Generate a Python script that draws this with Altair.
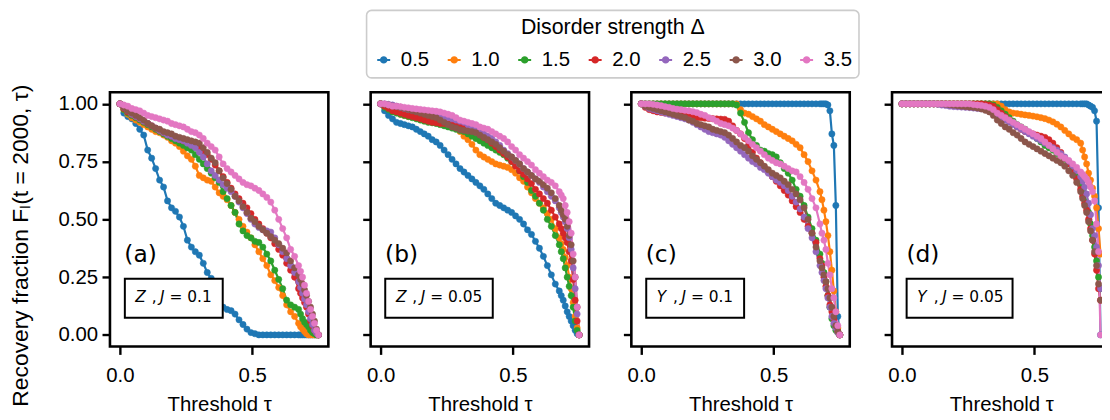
import altair as alt
import pandas as pd

# ---------------- data ----------------
TAU = [0.0, 0.015, 0.03, 0.045, 0.06, 0.075, 0.09, 0.105, 0.12, 0.135,
       0.15, 0.165, 0.18, 0.195, 0.21, 0.225, 0.24, 0.255, 0.27, 0.285,
       0.3, 0.315, 0.33, 0.345, 0.36, 0.375, 0.39, 0.405, 0.42, 0.435,
       0.45, 0.465, 0.48, 0.495, 0.51, 0.525, 0.54, 0.555, 0.57, 0.585,
       0.6, 0.615, 0.63, 0.645, 0.66, 0.675, 0.6825, 0.69, 0.6975, 0.705,
       0.7125, 0.72, 0.7275, 0.735, 0.7425, 0.75]

DELTAS = ["0.5", "1.0", "1.5", "2.0", "2.5", "3.0", "3.5"]
COLORS = ["#1f77b4", "#ff7f0e", "#2ca02c", "#d62728", "#9467bd", "#8c564b", "#e377c2"]

# panel (a): Z, J = 0.1
A_05 = [1.0, .96, .945, .935, .915, .89, .865, .8, .765, .72, .67, .64, .58, .55, .535, .51, .47, .41, .38, .36,
        .345, .31, .27, .245, .22, .13, .12, .11, .105, .09, .065, .045, .025, .01, .005, 0, 0, 0, 0, 0,
        0, 0, 0, 0, 0, 0, 0, 0, 0, 0, 0, 0, 0, 0, 0, 0]
A_10 = [1.0, .975, .955, .94, .93, .92, .91, .9, .89, .88, .875, .865, .855, .84, .83, .815, .795, .775, .76, .73,
        .69, .68, .67, .665, .64, .615, .6, .585, .56, .53, .5, .47, .445, .42, .39, .36, .33, .3, .26, .235,
        .205, .17, .13, .1, .08, .05, .035, .025, .015, .005, 0, 0, 0, 0, 0, 0]
A_15 = [1.0, .975, .96, .95, .94, .93, .92, .91, .9, .89, .88, .87, .86, .85, .84, .83, .82, .81, .8, .78,
        .76, .74, .72, .7, .68, .66, .62, .59, .56, .53, .48, .45, .43, .42, .405, .4, .38, .35, .32, .28,
        .24, .2, .15, .13, .12, .11, .09, .07, .055, .045, .035, .02, .01, .005, 0, 0]
A_20 = [1.0, .98, .965, .955, .945, .935, .925, .915, .905, .895, .885, .875, .87, .86, .855, .845, .84, .835, .83, .82,
        .81, .795, .78, .76, .735, .71, .685, .66, .635, .61, .59, .57, .55, .525, .5, .48, .46, .44, .42, .395,
        .37, .345, .31, .28, .25, .2, .18, .16, .14, .12, .09, .06, .04, .02, .01, 0]
A_25 = [1.0, .985, .97, .955, .945, .935, .925, .915, .905, .895, .885, .875, .865, .86, .85, .845, .84, .83, .82, .81,
        .79, .77, .74, .71, .69, .67, .65, .635, .62, .6, .575, .55, .525, .5, .48, .465, .455, .45, .445, .42,
        .39, .36, .33, .3, .27, .23, .205, .18, .155, .13, .1, .07, .045, .02, .008, 0]
A_30 = [1.0, .985, .97, .96, .95, .94, .93, .915, .905, .895, .89, .88, .875, .87, .86, .855, .85, .845, .84, .835,
        .83, .81, .79, .765, .745, .71, .68, .655, .63, .6, .58, .555, .53, .505, .49, .47, .455, .44, .425, .41,
        .395, .375, .355, .32, .29, .26, .24, .22, .195, .17, .145, .12, .09, .06, .025, 0]
A_35 = [1.0, .995, .99, .98, .975, .97, .96, .95, .945, .94, .935, .93, .925, .915, .91, .905, .9, .89, .88, .875,
        .865, .85, .83, .815, .8, .77, .74, .72, .705, .69, .675, .66, .65, .645, .635, .625, .61, .595, .575, .54,
        .5, .46, .42, .37, .34, .3, .275, .25, .215, .18, .145, .11, .08, .05, .02, 0]

# panel (b): Z, J = 0.05
B_05 = [1.0, .97, .95, .935, .92, .915, .91, .905, .9, .89, .88, .87, .86, .845, .835, .82, .8, .78, .76, .74,
        .72, .705, .69, .675, .66, .645, .63, .61, .59, .57, .56, .55, .54, .53, .515, .5, .48, .455, .435, .405,
        .375, .34, .3, .26, .22, .19, .17, .15, .125, .1, .08, .06, .04, .02, .005, 0]
B_10 = [1.0, .99, .98, .97, .965, .955, .95, .945, .945, .944, .943, .935, .93, .925, .92, .915, .91, .905, .9, .895,
        .88, .86, .845, .825, .8, .78, .77, .76, .75, .74, .735, .73, .725, .715, .7, .68, .665, .64, .615, .59,
        .57, .55, .525, .5, .46, .42, .395, .37, .335, .3, .25, .2, .14, .08, .03, 0]
B_15 = [1.0, .985, .975, .965, .96, .955, .95, .945, .94, .935, .93, .925, .92, .918, .915, .91, .905, .9, .895, .89,
        .885, .88, .87, .86, .85, .84, .83, .82, .81, .8, .79, .78, .765, .75, .735, .71, .685, .66, .625, .6,
        .57, .54, .5, .47, .43, .39, .36, .33, .29, .25, .21, .17, .12, .06, .02, 0]
B_20 = [1.0, .99, .98, .97, .965, .96, .955, .95, .945, .94, .935, .93, .925, .92, .918, .915, .915, .914, .914, .912,
        .91, .905, .9, .895, .885, .87, .855, .845, .83, .815, .8, .785, .77, .75, .73, .71, .695, .675, .655, .63,
        .61, .59, .57, .54, .51, .48, .46, .44, .42, .4, .36, .32, .24, .15, .06, 0]
B_25 = [1.0, 1.0, .998, .995, .99, .985, .98, .975, .972, .97, .967, .964, .96, .957, .953, .95, .945, .94, .935, .93,
        .925, .92, .91, .9, .89, .88, .87, .86, .85, .835, .82, .8, .785, .77, .755, .74, .72, .705, .69, .675,
        .66, .64, .62, .6, .58, .55, .53, .51, .49, .46, .42, .37, .29, .2, .09, 0]
B_30 = [1.0, .998, .995, .99, .988, .985, .98, .975, .97, .965, .96, .955, .95, .945, .94, .93, .92, .91, .9, .895,
        .888, .885, .882, .88, .875, .865, .855, .845, .835, .825, .81, .795, .78, .77, .755, .74, .72, .705, .69, .675,
        .665, .65, .635, .615, .59, .56, .54, .52, .5, .47, .43, .39, .32, .25, .12, 0]
B_35 = [1.0, 1.0, .995, .99, .99, .988, .985, .983, .98, .978, .976, .974, .972, .97, .968, .965, .96, .955, .95, .94,
        .93, .925, .92, .915, .91, .9, .895, .89, .88, .87, .86, .85, .835, .815, .8, .78, .765, .75, .735, .715,
        .7, .685, .67, .66, .645, .62, .605, .59, .56, .53, .49, .44, .35, .25, .12, 0]

# panel (c): Y, J = 0.1
C_05 = [1.0] * 46 + [1.0, 1.0, 1.0, .995, .97, .87, .82, .56, .08, 0]
C_10 = [1.0] * 25 + [.975, .96, .955, .945, .935, .925, .91, .9, .89, .88, .87, .86, .85, .84, .825, .81, .78, .75,
                     .71, .67, .62, .585, .54, .49, .43, .36, .28, .19, .1, .03, 0]
C_15 = [1.0] * 24 + [.995, .96, .92, .875, .845, .82, .8, .795, .785, .78, .77, .745, .72, .7, .67, .63, .6, .56,
                     .51, .46, .41, .35, .31, .27, .23, .17, .12, .07, .04, .02, .01, 0]
C_20 = [1.0, .985, .975, .97, .965, .963, .96, .958, .955, .953, .95, .948, .945, .943, .94, .94, .938, .937, .936, .935,
        .934, .933, .925, .905, .885, .87, .85, .82, .79, .765, .745, .725, .705, .685, .665, .645, .625, .605, .58, .555,
        .53, .5, .47, .44, .4, .33, .3, .25, .21, .17, .13, .1, .07, .04, .015, 0]
C_25 = [1.0, .99, .98, .975, .97, .965, .96, .955, .95, .945, .94, .935, .93, .92, .91, .9, .89, .88, .875, .87,
        .865, .855, .84, .825, .81, .795, .78, .765, .75, .74, .725, .715, .7, .685, .67, .66, .645, .625, .6, .575,
        .545, .51, .46, .42, .36, .3, .27, .235, .2, .16, .12, .08, .05, .03, .01, 0]
C_30 = [1.0, .99, .985, .98, .975, .97, .965, .96, .955, .95, .945, .94, .93, .925, .915, .91, .905, .9, .89, .885,
        .88, .875, .865, .85, .835, .82, .81, .795, .775, .76, .745, .73, .715, .7, .69, .68, .665, .65, .63, .61,
        .585, .55, .5, .44, .38, .32, .29, .26, .23, .2, .16, .12, .08, .04, .015, 0]
C_35 = [1.0, 1.0, 1.0, .998, .995, .992, .988, .985, .98, .977, .975, .972, .97, .966, .962, .955, .95, .94, .935, .925,
        .915, .91, .905, .895, .885, .87, .855, .84, .825, .81, .795, .78, .765, .755, .745, .74, .73, .72, .71, .705,
        .685, .66, .63, .59, .55, .48, .44, .41, .37, .31, .26, .2, .16, .1, .04, 0]

# panel (d): Y, J = 0.05
D_05 = [1.0] * 46 + [1.0, 1.0, 1.0, .995, .99, .985, .97, .925, .55, 0]
D_10 = [1.0] * 25 + [.99, .975, .965, .96, .958, .955, .952, .95, .947, .944, .94, .936, .93, .922, .912, .9, .885,
                     .87, .855, .845, .83, .8, .77, .74, .7, .67, .635, .6, .55, .46, .35]
D_15 = [1.0] * 23 + [.995, .985, .97, .955, .94, .925, .91, .9, .89, .875, .865, .85, .835, .82, .81, .8, .785, .775,
                     .76, .745, .725, .7, .665, .64, .61, .57, .53, .48, .43, .38, .32, .25, .2]
D_20 = [1.0] * 21 + [.998, .995, .99, .975, .96, .945, .93, .915, .9, .89, .88, .875, .87, .865, .86, .855, .845, .83,
                     .81, .79, .765, .74, .71, .675, .63, .6, .57, .54, .5, .46, .41, .35, .28, .2, .15]
D_25 = [1.0] * 9 + [.998, .995, .993, .99, .988, .987, .986, .985, .984, .982, .98, .978, .975, .97, .96, .95, .94,
                    .93, .92, .91, .9, .89, .88, .87, .86, .85, .84, .83, .82, .81, .8, .785, .77, .75, .73, .71, .685,
                    .665, .64, .61, .57, .52, .46, .43, .38, .3, .2]
D_30 = [1.0] * 11 + [.998, .996, .994, .992, .99, .988, .986, .985, .982, .978, .972, .965, .95, .93, .915, .9, .89,
                     .875, .865, .85, .835, .825, .815, .805, .795, .785, .775, .765, .755, .745, .73, .71, .69, .66,
                     .62, .59, .56, .53, .49, .45, .41, .36, .3, .22, .15]
D_35 = [1.0] * 18 + [.997, .995, .993, .99, .985, .975, .96, .95, .94, .93, .92, .91, .9, .89, .88, .87, .86, .85,
                     .835, .82, .805, .79, .775, .765, .755, .74, .725, .705, .695, .685, .675, .66, .64, .62, .58, .48,
                     .36, 0]

PANELS = [
    ("(a)", "Z", "= 0.1", [A_05, A_10, A_15, A_20, A_25, A_30, A_35]),
    ("(b)", "Z", "= 0.05", [B_05, B_10, B_15, B_20, B_25, B_30, B_35]),
    ("(c)", "Y", "= 0.1", [C_05, C_10, C_15, C_20, C_25, C_30, C_35]),
    ("(d)", "Y", "= 0.05", [D_05, D_10, D_15, D_20, D_25, D_30, D_35]),
]

# ---------------- styling ----------------
W, H = 220, 256
SPACING = 42.6
FONT = "Liberation Sans"
BOX_X = [(15, 113.6), (14.7, 123), (15, 113.6), (14.7, 121.4)]
BOX_Y = (187.8, 227.2)
TXT_BASE = 211.5
SYMBOL = "M-1,0L1,0M-0.42,0A0.42,0.42,0,1,1,0.42,0A0.42,0.42,0,1,1,-0.42,0Z"

legend = alt.Legend(
    title="Disorder strength Δ", orient="none", legendX=258.5, legendY=-82.5,
    direction="horizontal", columns=7, titleAnchor="middle", titleAlign="center",
    titleFont=FONT, titleFontSize=21.5, titleFontWeight="normal", titleColor="black",
    titleLimit=500, labelLimit=100,
    labelFont=FONT, labelFontSize=20.5, labelColor="black", labelOffset=7,
    symbolType=SYMBOL, symbolSize=170, symbolStrokeWidth=2,
    columnPadding=14, padding=7, titlePadding=11,
    strokeColor="#cccccc", fillColor="white", cornerRadius=5,
)
scale = alt.Scale(domain=DELTAS, range=COLORS)
one = pd.DataFrame({"k": [0]})


def text_layer(s, x, y, size, italic=False, font="DejaVu Sans"):
    return alt.Chart(one).mark_text(
        text=s, align="left", baseline="alphabetic", font=font, fontSize=size,
        fontStyle="italic" if italic else "normal", color="black",
    ).encode(x=alt.value(x), y=alt.value(y))


charts = []
for i, (letter, op, jval, series) in enumerate(PANELS):
    rows = []
    for d, vals in zip(DELTAS, series):
        assert len(vals) == len(TAU), (letter, d, len(vals))
        for t, v in zip(TAU, vals):
            rows.append({"tau": t, "F": v, "delta": d})
    df = pd.DataFrame(rows)
    first = i == 0
    x = alt.X("tau:Q", scale=alt.Scale(domain=[-0.0375, 0.7875], nice=False, zero=False),
              axis=alt.Axis(values=[0.0, 0.5], format=".1f", title="Threshold τ",
                            labelBaseline="alphabetic", labelPadding=27,
                            titleBaseline="alphabetic", titleY=65))
    y = alt.Y("F:Q", scale=alt.Scale(domain=[-0.05, 1.05], nice=False, zero=False),
              axis=alt.Axis(values=[0.0, 0.25, 0.5, 0.75, 1.0], format=".2f",
                            labels=first, labelPadding=4.5, labelBaseline="middle",
                            title="Recovery fraction Fₗ(t = 2000, τ)" if first else None,
                            titleX=-83, titleY=154, titleBaseline="alphabetic",
                            titleFontSize=23))
    base = alt.Chart(df)
    lines = base.mark_line(strokeWidth=2.2).encode(
        x=x, y=y, stroke=alt.Stroke("delta:N", scale=scale, legend=legend, sort=DELTAS))
    pts = base.mark_point(filled=True, size=40, opacity=1, strokeWidth=0.5).encode(
        x=x, y=y,
        fill=alt.Fill("delta:N", scale=scale, legend=legend, sort=DELTAS),
        stroke=alt.Stroke("delta:N", scale=scale, legend=legend, sort=DELTAS))
    bx0, bx1 = BOX_X[i]
    box = alt.Chart(one).mark_rect(fill="white", stroke="black", strokeWidth=2).encode(
        x=alt.value(bx0), x2=alt.value(bx1), y=alt.value(BOX_Y[0]), y2=alt.value(BOX_Y[1]))
    layer = alt.layer(
        lines, pts, box,
        text_layer(letter, 14.5, 171.2, 23.5),
        text_layer(op, 25.5, TXT_BASE, 15.5, italic=True),
        text_layer(",", 42, TXT_BASE, 15.5),
        text_layer("J", 50.5, TXT_BASE, 15.5, italic=True),
        text_layer(jval, 60, TXT_BASE, 15.5),
    ).properties(width=W, height=H)
    charts.append(layer)

chart = alt.hconcat(*charts, spacing=SPACING, bounds="flush").properties(
    autosize=alt.AutoSizeParams(type="none"),
    padding={"left": 102.7, "top": 82.5, "right": 999.3, "bottom": 321.5},
).configure_view(stroke="black", strokeWidth=2.6).configure_axis(
    domain=False, grid=False, tickColor="black", tickWidth=2.4, tickSize=8,
    labelFont=FONT, labelFontSize=20.5, labelColor="black",
    titleFont=FONT, titleFontSize=20.5, titleColor="black", titleFontWeight="normal",
).configure_legend(strokeWidth=1.6)

chart.save("out.html", embed_options={"renderer": "svg", "actions": False})
